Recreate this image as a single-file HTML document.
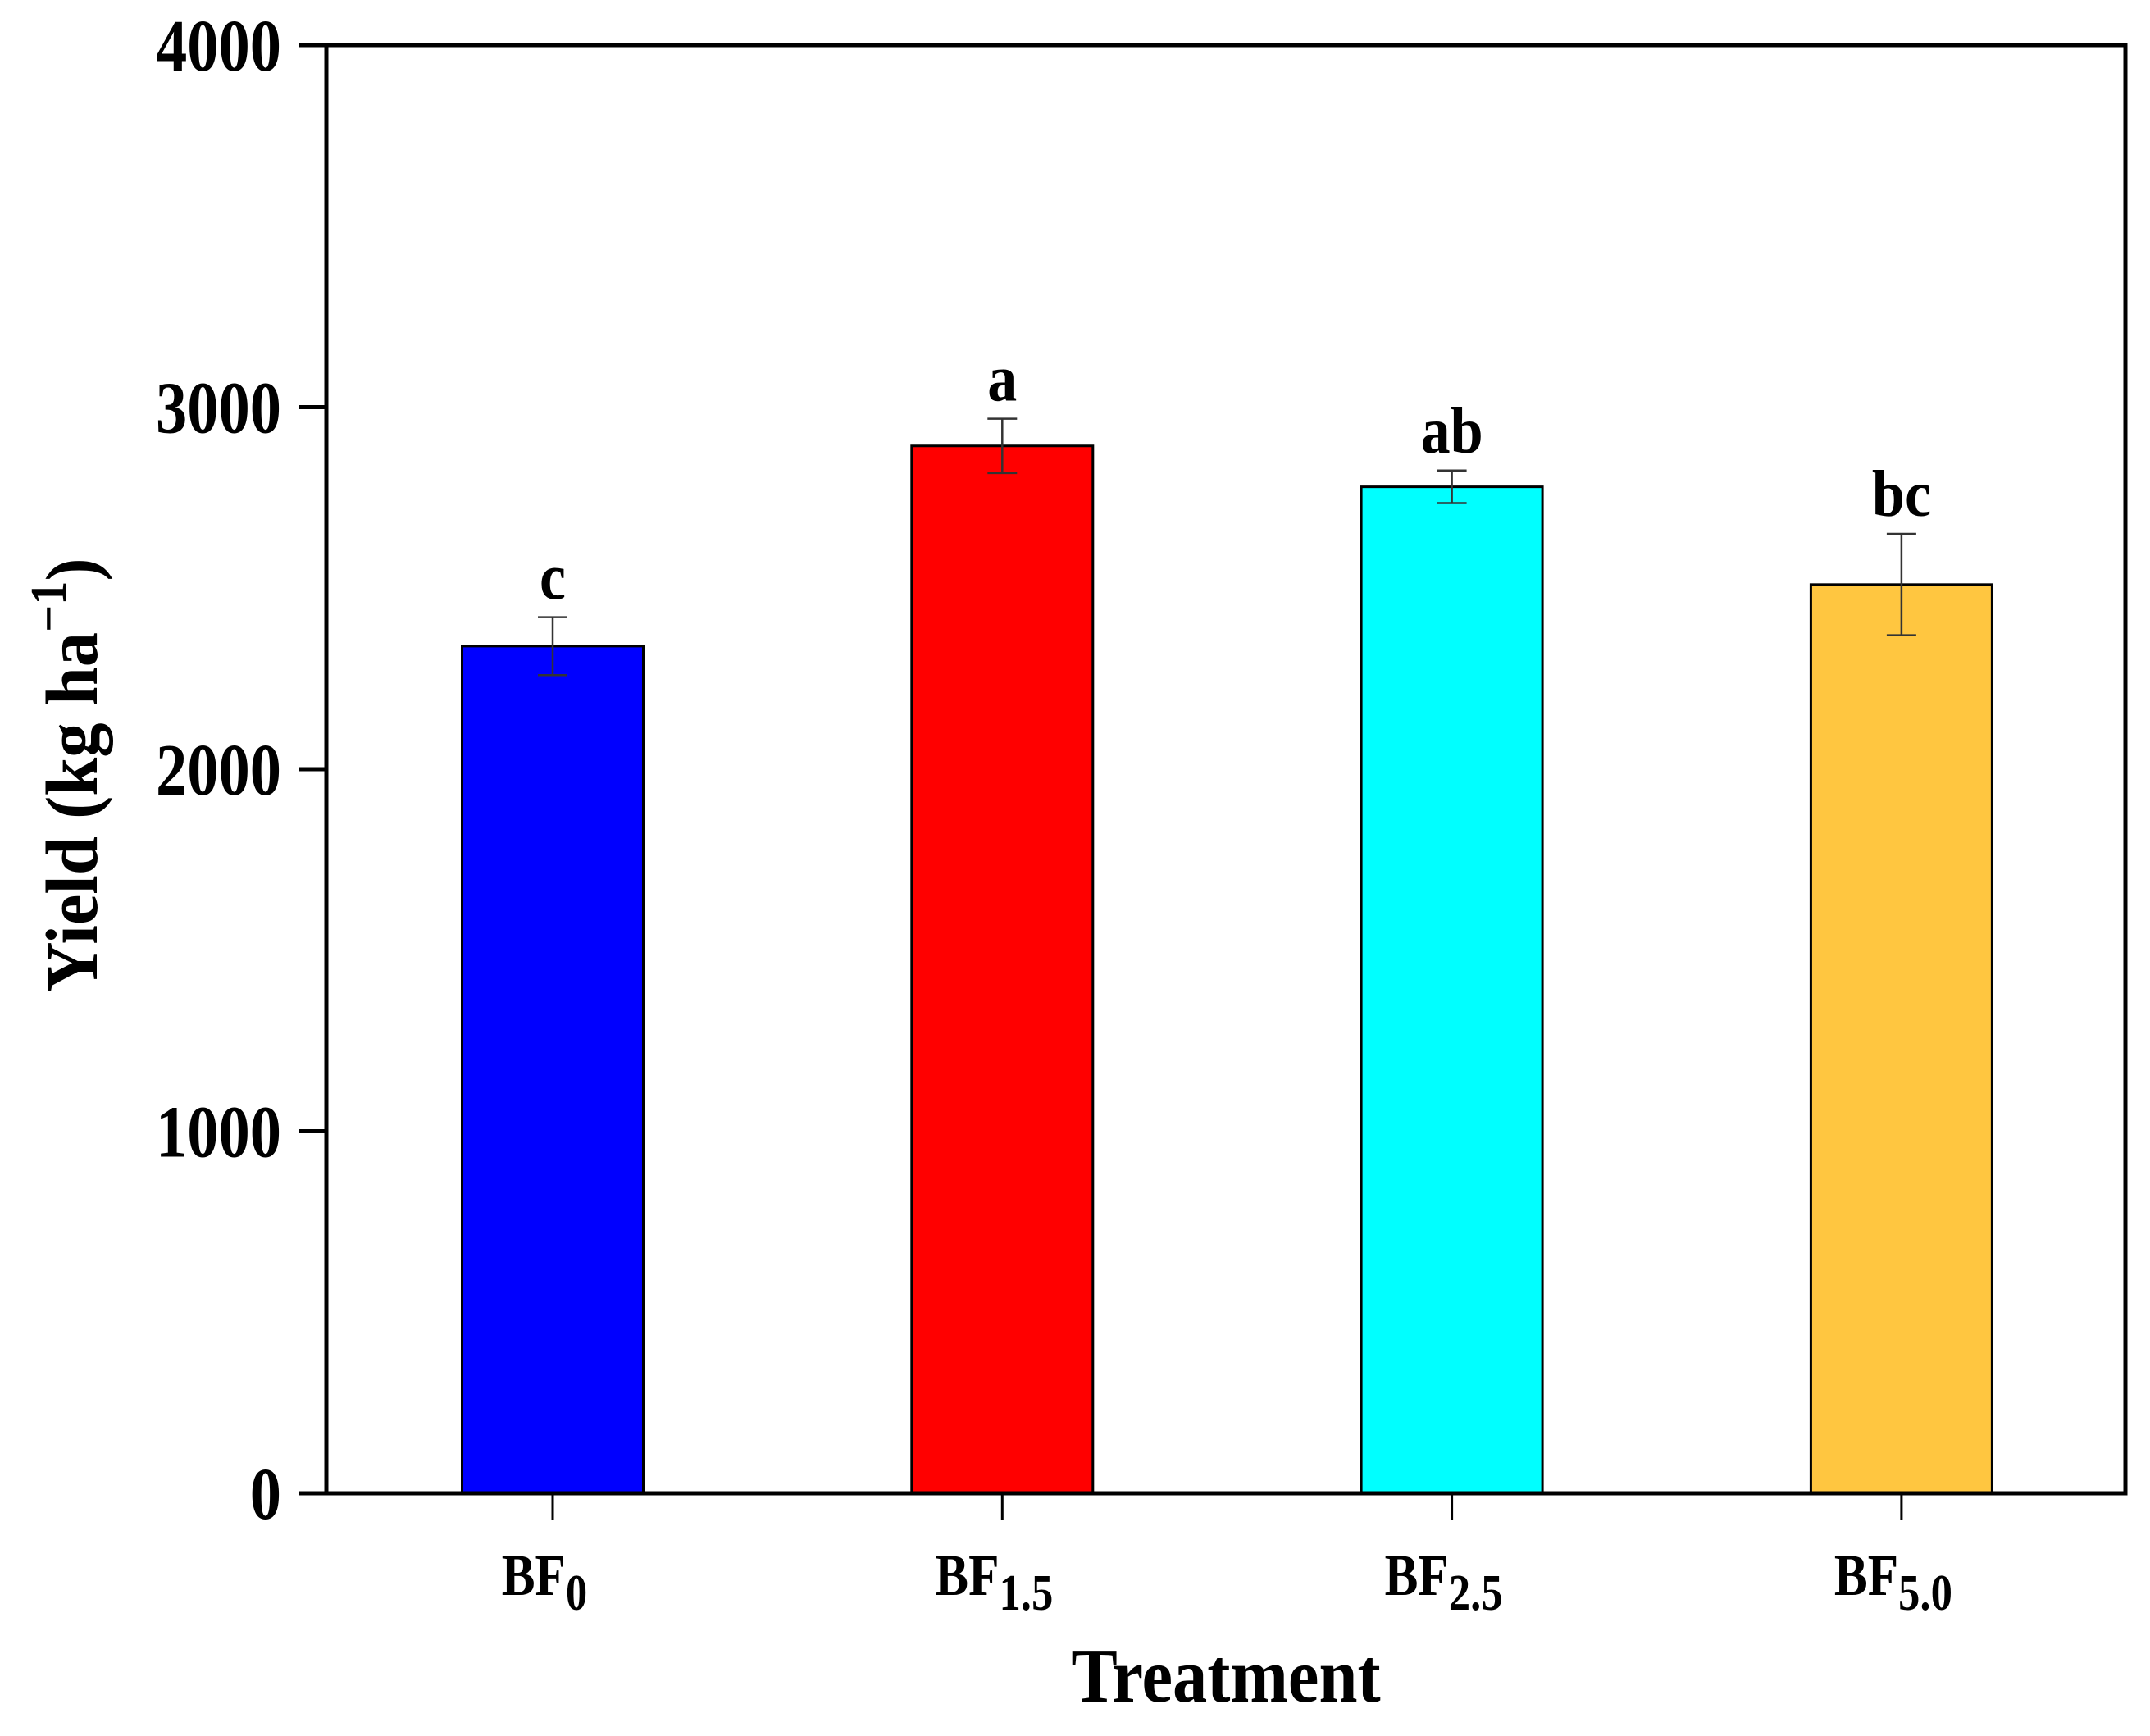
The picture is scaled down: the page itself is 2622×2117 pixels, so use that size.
<!DOCTYPE html>
<html><head><meta charset="utf-8"><style>
body{margin:0;background:#fff}
svg text{font-family:"Liberation Serif",serif;font-weight:bold;fill:#000}
</style></head><body>
<svg id="chart" width="2622" height="2112" xmlns="http://www.w3.org/2000/svg">
<g id="marks"></g>
<text transform="translate(1495,2075) scale(0.9,1)" font-size="94" text-anchor="middle">Treatment</text>
<text transform="translate(118,945) rotate(-90) scale(0.94,1)" font-size="90" text-anchor="middle">Yield (kg ha<tspan dy="-38" font-size="62">−1</tspan><tspan dy="38">)</tspan></text>
</svg>
<script>
const categories=["BF","BF","BF","BF"];
const subs=["0","1.5","2.5","5.0"];
const values=[2340,2893,2780,2510];
const errors=[80,75,45,140];
const letters=["c","a","ab","bc"];
const colors=["#0000ff","#ff0000","#00ffff","#ffc640"];
const yTicks=[0,1000,2000,3000,4000];
const L=398,R=2592,T=55,B=1821,yMax=4000;
const y=v=>B-(v/yMax)*(B-T);
const x=i=>674+i*548.3;
const bw=221;
const ns="http://www.w3.org/2000/svg";
const g=document.getElementById('marks');
function mk(t,a,txt){const e=document.createElementNS(ns,t);for(const k in a)e.setAttribute(k,a[k]);if(txt!==undefined)e.textContent=txt;g.appendChild(e);return e;}
values.forEach((v,i)=>{
 const r=mk('rect',{x:x(i)-bw/2,y:y(v),width:bw,height:B-y(v),fill:colors[i],stroke:'#000','stroke-width':3});
 
 
 const e=errors[i];
 const eb=mk('path',{d:`M${x(i)},${y(v+e)}V${y(v-e)}M${x(i)-18},${y(v+e)}h36M${x(i)-18},${y(v-e)}h36`,stroke:'#333','stroke-width':2.5,fill:'none'});
 
 
 const l=mk('text',{transform:`translate(${x(i)},${y(v+e)-22}) scale(0.9,1)`,'font-size':80,'text-anchor':'middle'},letters[i]);
 
 
 const t=mk('text',{transform:`translate(${x(i)-10},1945) scale(0.85,1)`,'font-size':72,'text-anchor':'middle'});
 
 
 t.innerHTML=categories[i]+'<tspan dy="18" font-size="62">'+subs[i]+'</tspan>';
 const tk=mk('line',{x1:x(i),x2:x(i),y1:B,y2:B+32,stroke:'#000','stroke-width':3});
 
 
});
yTicks.forEach(v=>{
 const tk=mk('line',{x1:L-33,x2:L,y1:y(v),y2:y(v),stroke:'#000','stroke-width':5});
 
 
 const t=mk('text',{transform:`translate(343,${y(v)+31}) scale(0.85,1)`,'font-size':90,'text-anchor':'end'},String(v));
 
 
});
const f=mk('rect',{x:L,y:T,width:R-L,height:B-T,fill:'none',stroke:'#000','stroke-width':5});


</script>
</body></html>
